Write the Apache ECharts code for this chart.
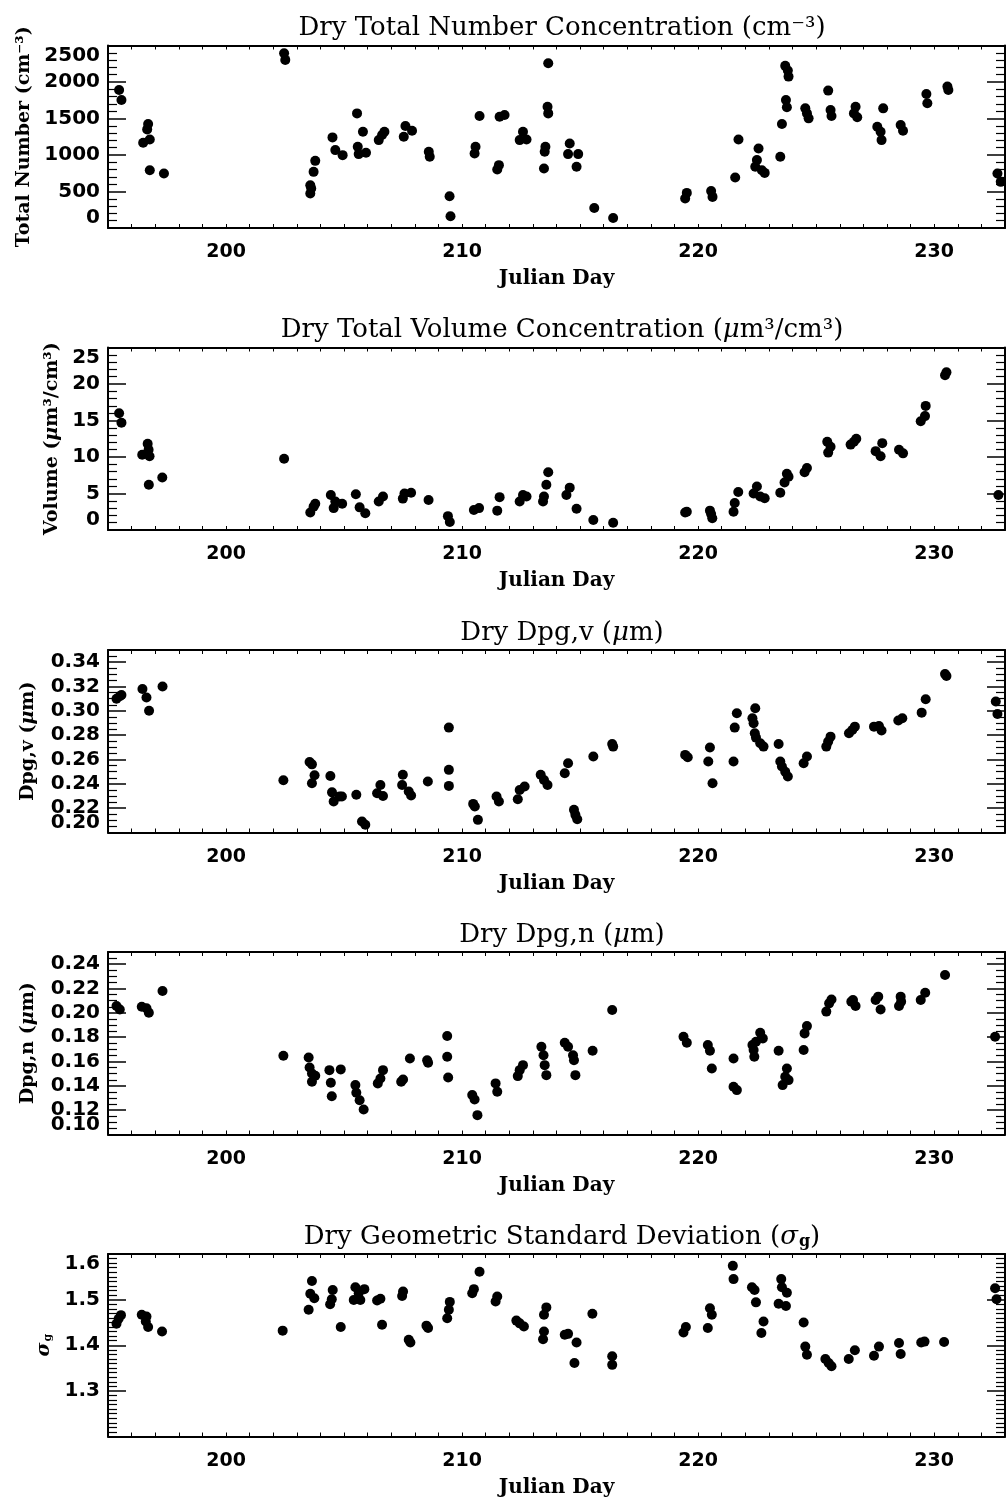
<!DOCTYPE html>
<html>
<head>
<meta charset="utf-8">
<script src="https://cdn.jsdelivr.net/npm/echarts@6/dist/echarts.min.js"></script>
<style>
  html, body { margin: 0; padding: 0; background: #fff; }
  #chart { width: 1008px; height: 1501px; }
</style>
</head>
<body>
<div id="chart"></div>
<script>
// Julian day / value pairs
const numDays = [195.47,195.57,196.49,196.70,196.66,196.77,196.77,197.37,202.46,202.51,203.57,203.61,203.57,203.71,203.78,204.51,204.63,204.94,205.55,205.58,205.62,205.80,205.93,206.47,206.61,206.71,207.53,207.60,207.88,208.59,208.63,209.47,209.51,210.53,210.57,210.74,211.49,211.56,211.59,211.80,212.44,212.58,212.73,213.47,213.50,213.53,213.62,213.65,213.65,214.49,214.56,214.85,214.92,215.60,216.40,219.45,219.52,220.55,220.61,221.57,221.71,222.42,222.49,222.56,222.70,222.82,223.48,223.55,223.69,223.80,223.83,223.72,223.76,224.54,224.61,224.68,225.51,225.61,225.65,226.60,226.67,226.74,227.59,227.73,227.77,227.84,228.58,228.68,229.67,229.71,230.56,230.60,232.68,232.82]
const numVals = [1891,1754,1168,1424,1351,1213,792,746,2395,2303,472,540,586,769,920,1241,1067,998,1570,1113,1012,1319,1030,1204,1273,1319,1250,1397,1332,1044,975,435,160,1021,1113,1534,801,861,1525,1548,1204,1319,1213,815,1044,1113,1662,1570,2258,1012,1158,838,1012,275,137,403,481,508,426,692,1213,838,930,1090,792,755,975,1424,2221,2157,2074,1754,1653,1639,1570,1502,1882,1616,1534,1570,1662,1516,1387,1319,1204,1639,1410,1332,1836,1708,1937,1891,746,632]

const volDays = [195.47,195.57,196.45,196.68,196.72,196.76,196.73,197.30,202.46,203.57,203.71,203.78,204.44,204.56,204.63,204.92,205.50,205.66,205.90,206.47,206.65,207.49,207.56,207.84,208.58,209.40,209.48,210.50,210.72,211.49,211.59,212.44,212.58,212.73,213.43,213.47,213.57,213.65,214.42,214.56,214.85,215.56,216.40,219.45,219.52,220.50,220.55,220.60,221.50,221.55,221.70,222.35,222.49,222.63,222.82,223.48,223.66,223.76,223.83,224.51,224.61,225.47,225.51,225.61,226.46,226.60,226.70,227.52,227.73,227.80,228.51,228.68,229.43,229.61,229.64,230.46,230.52,232.72]
const volVals = [16.0,14.7,10.3,11.8,11.0,10.1,6.2,7.2,9.75,2.4,3.2,3.6,4.8,3.0,3.9,3.6,4.9,3.1,2.3,3.9,4.6,4.3,5.0,5.1,4.1,1.9,1.1,2.75,3.0,2.65,4.5,3.9,4.8,4.6,3.9,4.6,6.2,7.9,4.8,5.8,2.9,1.37,1.0,2.4,2.5,2.65,2.2,1.6,2.5,3.7,5.2,5.0,5.95,4.6,4.35,5.1,6.5,7.7,7.3,7.9,8.5,12.1,10.6,11.4,11.7,12.1,12.5,10.8,10.1,11.9,11.0,10.5,14.9,15.6,17.0,21.2,21.6,4.8]

const dpgvDays = [195.36,195.50,195.57,196.46,196.63,196.74,197.31,202.43,203.54,203.64,203.75,203.64,204.42,204.49,204.56,204.81,204.91,205.52,205.76,205.90,206.40,206.54,206.65,207.49,207.46,207.74,207.84,208.55,209.44,209.44,209.44,210.47,210.54,210.67,211.46,211.56,212.36,212.44,212.65,213.33,213.47,213.62,214.35,214.49,214.74,214.80,214.88,215.56,216.36,216.40,219.45,219.56,220.50,220.43,220.61,221.50,221.55,221.64,222.42,222.30,222.35,222.40,222.45,222.63,222.77,223.41,223.48,223.55,223.69,223.80,224.47,224.61,225.43,225.51,225.61,226.39,226.53,226.64,227.45,227.66,227.77,228.48,228.65,229.47,229.64,230.46,230.52,232.61,232.68]
const dpgvVals = [0.310,0.312,0.313,0.318,0.311,0.300,0.320,0.243,0.258,0.256,0.247,0.2405,0.2465,0.233,0.2255,0.2296,0.2296,0.231,0.209,0.2063,0.2323,0.239,0.230,0.2474,0.239,0.2337,0.2304,0.2419,0.2862,0.2515,0.2383,0.2235,0.2214,0.2104,0.2296,0.2255,0.2274,0.235,0.2378,0.2474,0.2432,0.2391,0.2487,0.2569,0.2186,0.2145,0.2109,0.2624,0.2728,0.2706,0.2638,0.2619,0.2698,0.2583,0.2405,0.2583,0.2862,0.298,0.3021,0.2939,0.2898,0.2816,0.278,0.2733,0.2706,0.2728,0.2583,0.2542,0.250,0.246,0.2569,0.2624,0.2706,0.2747,0.2788,0.2816,0.2843,0.287,0.287,0.2876,0.2838,0.292,0.2939,0.2985,0.3095,0.3303,0.3287,0.3076,0.2974]

const dpgnDays = [195.36,195.50,196.43,196.63,196.73,197.31,202.43,203.50,203.54,203.64,203.78,203.64,204.38,204.86,204.44,204.48,205.48,205.52,205.66,205.83,206.43,206.54,206.65,207.42,207.50,207.79,208.52,208.56,209.37,209.37,209.41,210.43,210.53,210.65,211.42,211.49,212.36,212.44,212.58,213.36,213.45,213.50,213.57,214.35,214.49,214.70,214.74,214.80,215.53,216.36,219.38,219.52,220.41,220.50,220.58,221.50,221.50,221.64,222.30,222.35,222.38,222.45,222.63,222.74,223.41,223.58,223.69,223.76,223.83,224.47,224.51,224.61,225.43,225.55,225.65,226.49,226.56,226.67,227.52,227.63,227.73,228.51,228.58,228.60,229.43,229.62,230.46,232.58]
const dpgnVals = [0.2056,0.2028,0.205,0.2037,0.2001,0.2179,0.1647,0.1633,0.1551,0.1502,0.1483,0.1433,0.1529,0.1535,0.1425,0.1315,0.1406,0.1343,0.1282,0.1206,0.142,0.1461,0.1529,0.1433,0.1452,0.1625,0.1611,0.159,0.1809,0.1639,0.1469,0.1324,0.1288,0.1159,0.142,0.1351,0.148,0.1529,0.157,0.1721,0.1652,0.157,0.1488,0.1754,0.1721,0.1652,0.1611,0.1488,0.1688,0.2023,0.1803,0.1754,0.1735,0.1688,0.1543,0.1625,0.1392,0.1365,0.1735,0.1694,0.1639,0.1762,0.1836,0.179,0.1688,0.1406,0.1474,0.1543,0.1447,0.1694,0.1831,0.1891,0.201,0.2078,0.211,0.2092,0.2105,0.2056,0.2105,0.2133,0.2028,0.2056,0.2133,0.2092,0.2105,0.2165,0.2311,0.1803]

const sigDays = [195.36,195.45,195.55,196.43,196.63,196.60,196.70,197.29,202.40,203.50,203.64,203.57,203.74,204.41,204.48,204.52,204.86,205.48,205.41,205.69,205.86,205.62,206.40,206.54,206.61,207.46,207.50,207.74,207.81,208.49,208.56,209.37,209.44,209.48,210.43,210.50,210.74,211.42,211.49,212.30,212.44,212.62,213.47,213.57,213.43,213.47,214.35,214.49,214.85,214.76,215.52,216.36,216.36,219.38,219.48,220.41,220.50,220.58,221.47,221.50,222.28,222.39,222.45,222.77,222.68,223.52,223.55,223.76,223.41,223.72,224.47,224.54,224.61,225.39,225.53,225.65,226.38,226.64,227.45,227.66,228.51,228.58,229.45,229.59,230.42,232.58,232.64]
const sigVals = [1.447,1.458,1.466,1.467,1.463,1.452,1.440,1.430,1.432,1.478,1.541,1.513,1.503,1.490,1.501,1.521,1.440,1.527,1.499,1.499,1.523,1.514,1.498,1.502,1.445,1.508,1.518,1.412,1.406,1.443,1.438,1.459,1.478,1.495,1.514,1.523,1.561,1.496,1.507,1.454,1.448,1.441,1.467,1.483,1.413,1.430,1.423,1.425,1.406,1.361,1.469,1.376,1.357,1.428,1.440,1.438,1.481,1.467,1.574,1.545,1.527,1.521,1.494,1.452,1.427,1.545,1.527,1.515,1.491,1.486,1.450,1.397,1.379,1.370,1.361,1.354,1.370,1.389,1.377,1.397,1.405,1.381,1.406,1.408,1.407,1.525,1.501]

const dayRange = [195, 233]
const dayTicks = [200, 210, 220, 230]

// splitMin: draw the bottom label on its own axis so it can overlap the next one (as in the original)
const panels = [
  { title: 'Dry Total Number Concentration (cm⁻³)', yName: 'Total Number (cm⁻³)', days: numDays, vals: numVals,
    min: 0, max: 2500, interval: 500, minor: 5, digits: 0, nameGap: 71, showMin: true, showMax: true, splitMin: false },
  { title: 'Dry Total Volume Concentration ({it|μ}m³/cm³)', yName: 'Volume ({it|μ}m³/cm³)', days: volDays, vals: volVals,
    min: 0, max: 25, interval: 5, minor: 5, digits: 0, nameGap: 46, showMin: true, showMax: true, splitMin: false },
  { title: 'Dry Dpg,v ({it|μ}m)', yName: 'Dpg,v ({it|μ}m)', days: dpgvDays, vals: dpgvVals,
    min: 0.2, max: 0.35, interval: 0.02, minor: 4, digits: 2, nameGap: 70, showMin: false, showMax: false, splitMin: true },
  { title: 'Dry Dpg,n ({it|μ}m)', yName: 'Dpg,n ({it|μ}m)', days: dpgnDays, vals: dpgnVals,
    min: 0.1, max: 0.25, interval: 0.02, minor: 4, digits: 2, nameGap: 70, showMin: false, showMax: false, splitMin: true },
  { title: 'Dry Geometric Standard Deviation ({it|σ}{sub|g})', yName: '{it|σ}{sub|g}', days: sigDays, vals: sigVals,
    min: 1.2, max: 1.6, interval: 0.1, minor: 10, digits: 1, nameGap: 54, showMin: false, showMax: true, splitMin: false },
]

const gridTops = [45.5, 347.5, 650, 952, 1254]
const gridHeight = 182.5
const plotLeft = 108
const plotRight = 2

const serif = 'DejaVu Serif'
const sans = 'DejaVu Sans'

const chart = echarts.init(document.getElementById('chart'), null, { renderer: 'canvas' })

const richFor = (size, bold) => ({
  it: { fontFamily: serif, fontSize: size, fontStyle: 'italic', fontWeight: bold ? 'bold' : 'normal', color: '#000' },
  sub: { fontFamily: serif, fontSize: Math.round(size * 0.6), fontWeight: 'bold', verticalAlign: 'bottom', color: '#000', padding: [0, 0, 0, 1] },
})

const labelFont = { fontFamily: sans, fontSize: 20, fontWeight: 'bold', color: '#000' }

const grid = []
const xAxis = []
const yAxis = []
const series = []
const title = []

panels.forEach((p, i) => {
  grid.push({ left: plotLeft, right: plotRight, top: gridTops[i], height: gridHeight, containLabel: false })

  title.push({
    text: p.title,
    left: plotLeft + (1008 - plotLeft - plotRight) / 2 + 5,
    textAlign: 'center',
    top: gridTops[i] - 30,
    padding: 0,
    textStyle: { fontFamily: serif, fontSize: 26, fontWeight: 'normal', color: '#000', rich: richFor(26, false) },
  })

  const baseX = {
    type: 'value', gridIndex: i, min: dayRange[0], max: dayRange[1], interval: 1,
    splitLine: { show: false },
    axisLine: { show: true, onZero: false, lineStyle: { color: '#000', width: 2 } },
    axisTick: { show: true, inside: true, length: 4, lineStyle: { color: '#000', width: 1 } },
  }
  xAxis.push(Object.assign({}, baseX, {
    position: 'bottom',
    name: 'Julian Day', nameLocation: 'middle', nameGap: 41,
    nameTextStyle: { fontFamily: serif, fontSize: 20, fontWeight: 'bold', color: '#000' },
    axisLabel: Object.assign({}, labelFont, {
      show: true, margin: 15, fontSize: 19, hideOverlap: false,
      formatter: (v) => (dayTicks.includes(Math.round(v)) && Math.abs(v - Math.round(v)) < 1e-6 ? String(Math.round(v)) : ''),
    }),
  }))
  xAxis.push(Object.assign({}, baseX, { position: 'top', axisLabel: { show: false } }))

  const baseY = {
    type: 'value', gridIndex: i, min: p.min, max: p.max, interval: p.interval,
    splitLine: { show: false },
    axisLine: { show: true, onZero: false, lineStyle: { color: '#000', width: 2 } },
    axisTick: { show: true, inside: true, length: 18, lineStyle: { color: '#000', width: 1.5 } },
    minorTick: { show: true, splitNumber: p.minor, length: 9, lineStyle: { color: '#000', width: 1.2 } },
  }
  const seriesY = yAxis.length
  yAxis.push(Object.assign({}, baseY, {
    position: 'left',
    name: p.yName, nameLocation: 'middle', nameGap: p.nameGap, nameRotate: 90,
    nameTextStyle: { fontFamily: serif, fontSize: 19, fontWeight: 'bold', color: '#000', rich: richFor(19, true) },
    axisLabel: Object.assign({}, labelFont, {
      show: true, margin: 8, hideOverlap: false,
      showMinLabel: p.showMin, showMaxLabel: p.showMax,
      verticalAlignMinLabel: 'bottom', verticalAlignMaxLabel: 'top',
      formatter: (v) => v.toFixed(p.digits),
    }),
  }))
  yAxis.push(Object.assign({}, baseY, { position: 'right', axisLabel: { show: false } }))
  if (p.splitMin) {
    yAxis.push({
      type: 'value', gridIndex: i, position: 'left', min: p.min, max: p.max,
      splitLine: { show: false }, axisLine: { show: false }, axisTick: { show: false },
      axisLabel: Object.assign({}, labelFont, {
        show: true, margin: 8, customValues: [p.min], verticalAlign: 'bottom',
        formatter: (v) => v.toFixed(p.digits),
      }),
    })
  }

  series.push({
    type: 'scatter',
    xAxisIndex: i * 2,
    yAxisIndex: seriesY,
    symbol: 'circle',
    symbolSize: 10,
    itemStyle: { color: '#000', opacity: 1 },
    clip: false,
    silent: true,
    data: p.days.map((d, k) => [d, p.vals[k]]),
  })
})

const option = { animation: false, backgroundColor: '#fff', title, grid, xAxis, yAxis, series }
chart.setOption(option)
</script>
</body>
</html>
